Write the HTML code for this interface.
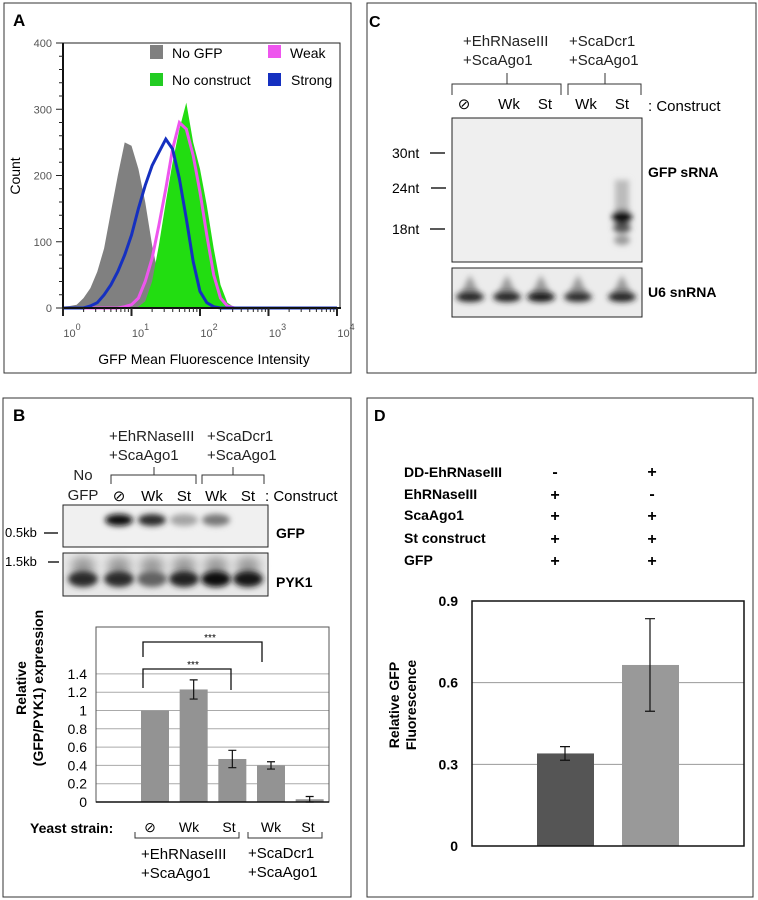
<!DOCTYPE html>
<html><head><meta charset="utf-8"><style>
html,body{margin:0;padding:0;background:#fff}
svg{display:block;font-family:"Liberation Sans",Arial,sans-serif}
</style></head><body>
<svg id="fig" width="758" height="900" viewBox="0 0 758 900">
<defs>
<filter id="blur3" x="-50%" y="-100%" width="200%" height="300%"><feGaussianBlur stdDeviation="3"/></filter>
<filter id="blur5" x="-50%" y="-100%" width="200%" height="300%"><feGaussianBlur stdDeviation="5"/></filter>
</defs>
<!-- panel borders -->
<rect x="4" y="3" width="347" height="370" fill="none" stroke="#333"/>
<rect x="367" y="3" width="389" height="370" fill="none" stroke="#333"/>
<rect x="3" y="398" width="348" height="499" fill="none" stroke="#333"/>
<rect x="367" y="398" width="386" height="499" fill="none" stroke="#333"/>

<!-- Panel A -->
<text x="13" y="26" font-size="17" font-weight="bold">A</text>
<g id="histA"></g>
<g>
<rect x="150" y="45" width="13" height="14" fill="#808080"/>
<text x="172" y="58" font-size="14">No GFP</text>
<rect x="150" y="73" width="13" height="13" fill="#22cc22"/>
<text x="172" y="85" font-size="14">No construct</text>
<rect x="268" y="45" width="13" height="13" fill="#ee55ee"/>
<text x="290" y="58" font-size="14">Weak</text>
<rect x="268" y="73" width="13" height="13" fill="#1530c0"/>
<text x="291" y="85" font-size="14">Strong</text>
</g>
<text transform="translate(20,176) rotate(-90)" text-anchor="middle" font-size="14">Count</text>
<text x="204" y="364" text-anchor="middle" font-size="14">GFP Mean Fluorescence Intensity</text>

<!-- Panel C -->
<text x="369" y="27" font-size="16" font-weight="bold">C</text>
<g font-size="15" fill="#222">
<text x="463" y="46">+EhRNaseIII</text>
<text x="463" y="65">+ScaAgo1</text>
<text x="569" y="46">+ScaDcr1</text>
<text x="569" y="65">+ScaAgo1</text>
</g>
<path d="M452,95 V84 H561 V95 M507,84 V73 M568,95 V84 H641 V95 M605,84 V73" fill="none" stroke="#333"/>
<g font-size="15" text-anchor="middle">
<text x="464" y="109">⊘</text>
<text x="509" y="109">Wk</text>
<text x="545" y="109">St</text>
<text x="586" y="109">Wk</text>
<text x="622" y="109">St</text>
</g>
<text x="648" y="111" font-size="15">: Construct</text>
<rect x="452" y="118" width="190" height="144" fill="#efefef" stroke="#222"/>
<g filter="url(#blur3)">
<rect x="615" y="180" width="14" height="50" fill="#bbb"/>
<ellipse cx="622" cy="217" rx="10" ry="7" fill="#111"/>
<ellipse cx="622" cy="228" rx="9" ry="5" fill="#555"/>
<ellipse cx="622" cy="240" rx="8" ry="5" fill="#999"/>
</g>
<rect x="452" y="268" width="190" height="49" fill="#ececec" stroke="#222"/>
<g id="u6bands"></g>
<g font-size="14">
<text x="392" y="158">30nt</text>
<text x="392" y="193">24nt</text>
<text x="392" y="234">18nt</text>
</g>
<path d="M430,153 H445 M431,188 H446 M430,229 H445" stroke="#222" stroke-width="1.5"/>
<text x="648" y="177" font-size="14" font-weight="bold">GFP sRNA</text>
<text x="648" y="297" font-size="14" font-weight="bold">U6 snRNA</text>

<!-- Panel B -->
<text x="13" y="421" font-size="17" font-weight="bold">B</text>
<g font-size="15" fill="#222">
<text x="109" y="441">+EhRNaseIII</text>
<text x="109" y="460">+ScaAgo1</text>
<text x="207" y="441">+ScaDcr1</text>
<text x="207" y="460">+ScaAgo1</text>
<text x="83" y="480" text-anchor="middle">No</text>
<text x="83" y="500" text-anchor="middle">GFP</text>
</g>
<path d="M111,484 V475 H196 V484 M154,475 V467 M202,484 V475 H264 V484 M233,475 V467" fill="none" stroke="#333"/>
<g font-size="15" text-anchor="middle">
<text x="119" y="501">⊘</text>
<text x="152" y="501">Wk</text>
<text x="184" y="501">St</text>
<text x="216" y="501">Wk</text>
<text x="248" y="501">St</text>
</g>
<text x="265" y="501" font-size="15">: Construct</text>
<rect x="63" y="505" width="205" height="42" fill="#f0f0f0" stroke="#222"/>
<rect x="63" y="553" width="205" height="43" fill="#e8e8e8" stroke="#222"/>
<g id="nbands"></g>
<text x="5" y="537" font-size="13">0.5kb</text>
<text x="5" y="566" font-size="13">1.5kb</text>
<path d="M44,533 H58 M48,562 H59" stroke="#222" stroke-width="1.5"/>
<text x="276" y="538" font-size="14" font-weight="bold">GFP</text>
<text x="276" y="587" font-size="14" font-weight="bold">PYK1</text>
<g id="barB"></g>
<text transform="translate(26,688) rotate(-90)" text-anchor="middle" font-size="14" font-weight="bold">Relative</text>
<text transform="translate(43,688) rotate(-90)" text-anchor="middle" font-size="14" font-weight="bold">(GFP/PYK1) expression</text>
<text x="30" y="833" font-size="14" font-weight="bold">Yeast strain:</text>
<g font-size="14" text-anchor="middle">
<text x="150" y="832">⊘</text>
<text x="189" y="832">Wk</text>
<text x="229" y="832">St</text>
<text x="271" y="832">Wk</text>
<text x="308" y="832">St</text>
</g>
<path d="M135,832 V838 H239 V832 M248,832 V838 H322 V832" fill="none" stroke="#333"/>
<g font-size="15">
<text x="141" y="859">+EhRNaseIII</text>
<text x="141" y="878">+ScaAgo1</text>
<text x="248" y="858">+ScaDcr1</text>
<text x="248" y="877">+ScaAgo1</text>
</g>

<!-- Panel D -->
<text x="374" y="421" font-size="16" font-weight="bold">D</text>
<g font-size="14" font-weight="bold">
<text x="404" y="477">DD-EhRNaseIII</text>
<text x="404" y="499">EhRNaseIII</text>
<text x="404" y="520">ScaAgo1</text>
<text x="404" y="543">St construct</text>
<text x="404" y="565">GFP</text>
</g>
<g font-size="16" font-weight="bold" text-anchor="middle">
<text x="555" y="477">-</text><text x="652" y="477">+</text>
<text x="555" y="500">+</text><text x="652" y="499">-</text>
<text x="555" y="521">+</text><text x="652" y="521">+</text>
<text x="555" y="544">+</text><text x="652" y="544">+</text>
<text x="555" y="566">+</text><text x="652" y="566">+</text>
</g>
<g id="barD"></g>
<text transform="translate(399,705) rotate(-90)" text-anchor="middle" font-size="14" font-weight="bold">Relative GFP</text>
<text transform="translate(416,705) rotate(-90)" text-anchor="middle" font-size="14" font-weight="bold">Fluorescence</text>
</svg>
<script>
// ---- Panel A data (log10 intensity grid, counts)
const logGrid = [0,0.1,0.2,0.3,0.4,0.5,0.6,0.7,0.8,0.9,1.0,1.1,1.2,1.3,1.4,1.5,1.6,1.7,1.8,1.9,2.0,2.1,2.2,2.3,2.4,2.5,2.6,2.7,2.8,2.9,3.0,3.5,4.0];
const noGfpCounts = [2,3,5,15,30,55,90,145,200,250,245,210,160,95,45,15,5,2,0,0,0,0,0,0,0,0,0,0,0,0,0,0,0];
const noConstructCounts = [0,0,0,0,0,0,0,0,0,0,0,2,10,40,95,160,220,270,310,250,210,155,90,35,8,1,0,0,0,0,0,0,0];
const weakCounts = [0,0,0,0,0,0,0,0,0,2,5,15,40,75,125,180,240,280,270,230,175,110,50,15,3,0,0,0,0,0,0,0,0];
const strongCounts = [0,0,0,0,3,8,20,35,55,80,110,150,185,215,235,255,240,195,135,70,25,8,2,0,0,0,0,0,0,0,0,0,0];
const countTicks = [0,100,200,300,400];
const decadeTicks = [0,1,2,3,4];
// ---- Panel B data
const bCategories = ["No GFP","⊘","Wk","St","Wk","St"];
const bValues = [0.005,1.0,1.23,0.47,0.40,0.03];
const bErrors = [0,0.003,0.105,0.095,0.04,0.03];
const bTicks = [0,0.2,0.4,0.6,0.8,1,1.2,1.4];
const gfpBandIntensity = [0,1.0,0.85,0.3,0.5,0.02];
const pykBandIntensity = [0.85,0.85,0.6,0.9,1.0,0.95];
// ---- Panel C data
const u6BandIntensity = [0.9,0.9,0.95,0.85,0.9];
// ---- Panel D data
const dCategories = ["DD- / EhRNaseIII +","DD-EhRNaseIII +"];
const dValues = [0.34,0.665];
const dErrors = [0.025,0.17];
const dTicks = [0,0.3,0.6,0.9];

const NS='http://www.w3.org/2000/svg';
function mk(tag,attrs,parent){const e=document.createElementNS(NS,tag);for(const k in attrs)e.setAttribute(k,attrs[k]);parent.appendChild(e);return e;}

// ---- Panel A
(function(){
const g=document.getElementById('histA');
const x=v=>63+68.5*v, y=c=>308-c*265/400;
function path(arr,close){let d='M'+x(logGrid[0])+','+y(arr[0]);for(let i=1;i<arr.length;i++)d+=' L'+x(logGrid[i]).toFixed(1)+','+y(arr[i]).toFixed(1);if(close)d+=' L'+x(4)+','+y(0)+' L'+x(0)+','+y(0)+'Z';return d;}
let p=mk('path',{d:path(noGfpCounts,true),fill:'#808080'},g);

p=mk('path',{d:path(noConstructCounts,true),fill:'#22dd11'},g);

p=mk('path',{d:path(weakCounts,false),fill:'none',stroke:'#ee55ee','stroke-width':3},g);

p=mk('path',{d:path(strongCounts,false),fill:'none',stroke:'#1530c0','stroke-width':3},g);

const frame=mk('path',{d:'M63,43 H340 V308 M63,43 V308 H340',fill:'none',stroke:'#222','stroke-width':1},g);

mk('line',{x1:63,y1:43,x2:63,y2:309,stroke:'#111','stroke-width':2},g);
mk('line',{x1:62,y1:308,x2:341,y2:308,stroke:'#111','stroke-width':2},g);
for(let c=0;c<=400;c+=20){mk('line',{x1:c%100?59:56,y1:y(c),x2:63,y2:y(c),stroke:'#222'},g);}
countTicks.forEach(c=>{const t=mk('text',{x:52,y:y(c)+4,'text-anchor':'end','font-size':11,fill:'#555'},g);t.textContent=c;
});
for(let d=0;d<4;d++)for(let m=1;m<10;m++){const xv=x(d+Math.log10(m));mk('line',{x1:xv,y1:308,x2:xv,y2:m==1?316:312,stroke:'#222','stroke-width':m==1?2:1},g);}
mk('line',{x1:x(4),y1:308,x2:x(4),y2:316,stroke:'#222','stroke-width':2},g);
decadeTicks.forEach(d=>{const t=mk('text',{x:x(d)+9,y:337,'text-anchor':'middle','font-size':11,fill:'#555'},g);
t.innerHTML='10<tspan dy="-7" font-size="9">'+d+'</tspan>';
});
})();

// ---- Northern blots B
(function(){
const g=document.getElementById('nbands');
const lanes=[83,119,152,184,216,248];
gfpBandIntensity.forEach((v,i)=>{if(v<0.03)return;const c=Math.round(230-220*v);
const e=mk('ellipse',{cx:lanes[i],cy:520,rx:14,ry:6,fill:'rgb('+c+','+c+','+c+')',filter:'url(#blur3)'},g);
});
pykBandIntensity.forEach((v,i)=>{const c=Math.round(230-220*v);
mk('ellipse',{cx:lanes[i],cy:566,rx:12,ry:9,fill:'#999',filter:'url(#blur5)'},g);
const e=mk('ellipse',{cx:lanes[i],cy:579,rx:15,ry:8,fill:'rgb('+c+','+c+','+c+')',filter:'url(#blur3)'},g);
});
})();
// ---- U6 C
(function(){
const g=document.getElementById('u6bands');
const lanes=[470,507,541,578,622];
u6BandIntensity.forEach((v,i)=>{const c=Math.round(230-220*v);
mk('path',{d:'M'+(lanes[i]-10)+',295 L'+lanes[i]+',275 L'+(lanes[i]+10)+',295Z',fill:'#999',filter:'url(#blur3)'},g);
const e=mk('ellipse',{cx:lanes[i],cy:297,rx:14,ry:5,fill:'rgb('+c+','+c+','+c+')',filter:'url(#blur3)'},g);
});
})();

// ---- Panel B bar chart
(function(){
const g=document.getElementById('barB');
const L=96,R=329,T=627,B=802;const y=v=>B-v*91.5;const slot=(R-L-1)/bCategories.length;const cx=i=>L+2+slot*(i+0.5)-1;
bTicks.forEach(t=>{if(t>0)mk('line',{x1:L,y1:y(t),x2:R,y2:y(t),stroke:'#aaa'},g);
const tx=mk('text',{x:87,y:y(t)+5,'text-anchor':'end','font-size':14},g);tx.textContent=t;
});
mk('rect',{x:L,y:T,width:R-L,height:B-T,fill:'none',stroke:'#555'},g);
bValues.forEach((v,i)=>{const r=mk('rect',{x:cx(i)-14,y:y(v),width:28,height:B-y(v),fill:'#939393'},g);

if(bErrors[i]>0.01){const e=bErrors[i];mk('path',{d:'M'+cx(i)+','+y(v+e)+' V'+y(v-e)+' M'+(cx(i)-4)+','+y(v+e)+' h8 M'+(cx(i)-4)+','+y(v-e)+' h8',stroke:'#111','stroke-width':1.2,fill:'none'},g);}});
mk('line',{x1:L,y1:B,x2:R,y2:B,stroke:'#111','stroke-width':1.5},g);
mk('path',{d:'M143,657 V642 H262 V662',fill:'none',stroke:'#111','stroke-width':1.3},g);
mk('path',{d:'M143,688 V669 H231 V690',fill:'none',stroke:'#111','stroke-width':1.3},g);
let s=mk('text',{x:210,y:641,'text-anchor':'middle','font-size':10},g);s.textContent='***';

s=mk('text',{x:193,y:668,'text-anchor':'middle','font-size':10},g);s.textContent='***';

})();

// ---- Panel D bar chart
(function(){
const g=document.getElementById('barD');
const L=472,R=744,T=601,B=846;const y=v=>B-v*(B-T)/0.9;const centers=[565,650];const cols=['#555555','#999999'];
dTicks.forEach(t=>{if(t>0&&t<0.9)mk('line',{x1:L,y1:y(t),x2:R,y2:y(t),stroke:'#999'},g);
const tx=mk('text',{x:458,y:y(t)+5,'text-anchor':'end','font-size':14,'font-weight':'bold'},g);tx.textContent=t;
});
dValues.forEach((v,i)=>{const r=mk('rect',{x:centers[i]-28,y:y(v),width:57,height:B-y(v),fill:cols[i]},g);

const e=dErrors[i],c=centers[i];mk('path',{d:'M'+c+','+y(v+e)+' V'+y(v-e)+' M'+(c-5)+','+y(v+e)+' h10 M'+(c-5)+','+y(v-e)+' h10',stroke:'#111','stroke-width':1.2,fill:'none'},g);});
mk('rect',{x:L,y:T,width:R-L,height:B-T,fill:'none',stroke:'#111','stroke-width':1.5},g);
})();
</script>
</body></html>
